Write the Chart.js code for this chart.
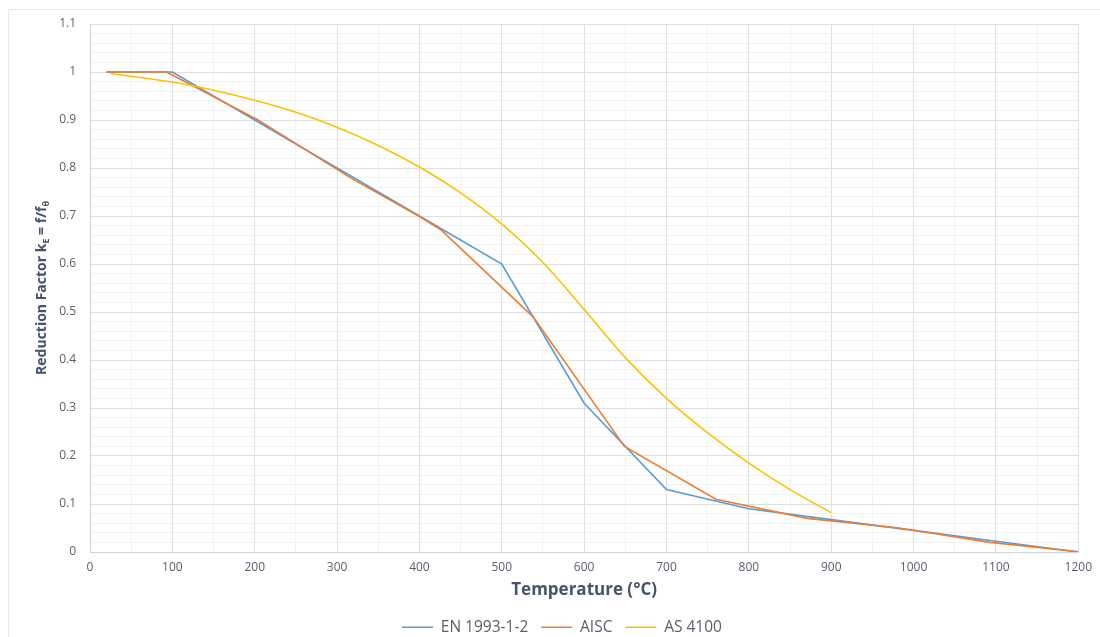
<!DOCTYPE html>
<html>
<head>
<meta charset="utf-8">
<script src="https://cdn.jsdelivr.net/npm/chart.js@4.4.1/dist/chart.umd.min.js"></script>
<style>
  html, body { margin: 0; padding: 0; background: #fff; overflow: hidden; }
  #frame {
    position: absolute; left: 8px; top: 9px; width: 1100px; height: 640px;
    border-top: 1px solid #e3e6ea; border-left: 1px solid #e3e6ea;
  }
  #wrap { position: absolute; left: 0; top: 0; width: 1100px; height: 645px; }
</style>
</head>
<body>
<div id="frame"></div>
<div id="wrap"><canvas id="chart"></canvas></div>
<script>
// ── Data ─────────────────────────────────────────────────────────────
const enTemps = [20, 100, 200, 300, 400, 500, 600, 700, 800, 900, 1000, 1100, 1200];
const enValues = [1, 1, 0.9, 0.8, 0.7, 0.6, 0.31, 0.13, 0.09, 0.0675, 0.045, 0.0225, 0];

const aiscTemps = [20, 93, 204, 316, 399, 427, 538, 649, 760, 871, 982, 1093, 1204];
const aiscValues = [1, 1, 0.9, 0.78, 0.7, 0.67, 0.49, 0.22, 0.11, 0.07, 0.05, 0.02, 0];

const asTemps = [25, 100, 150, 200, 250, 300, 350, 400, 450, 500, 550, 600, 650, 700, 750, 800, 850, 900];
const asValues = [0.997, 0.979, 0.962, 0.941, 0.916, 0.885, 0.847, 0.802, 0.748, 0.683, 0.603, 0.505, 0.405, 0.32, 0.248, 0.185, 0.13, 0.082];

const seriesNames = ["EN 1993-1-2", "AISC", "AS 4100"];
const seriesColors = ["#5B9BD5", "#ED7D31", "#FFC000"];

const TICK = "#595f6a";
const TITLE = "#44546A";
const MAJOR = "#dde1e6";
const MINOR = "#f1f2f4";

function pts(xs, ys) {
  return xs.map((x, i) => ({ x, y: ys[i] }));
}

// y-axis title has subscripts, so it is drawn by hand
const yTitle = {
  id: "yTitle",
  afterDraw(chart) {
    const { ctx, chartArea } = chart;
    const parts = [
      { t: "Reduction Factor k", s: 14, dy: 0 },
      { t: "E", s: 9, dy: 4 },
      { t: " = f/f", s: 14, dy: 0 },
      { t: "θ", s: 9, dy: 4 },
    ];
    ctx.save();
    let total = 0;
    parts.forEach((p) => {
      ctx.font = "bold " + p.s + "px 'Open Sans'";
      p.w = ctx.measureText(p.t).width;
      total += p.w;
    });
    ctx.translate(42, (chartArea.top + chartArea.bottom) / 2);
    ctx.rotate(-Math.PI / 2);
    ctx.fillStyle = TITLE;
    ctx.textBaseline = "middle";
    let x = -total / 2;
    parts.forEach((p) => {
      ctx.font = "bold " + p.s + "px 'Open Sans'";
      ctx.fillText(p.t, x, p.dy);
      x += p.w;
    });
    ctx.restore();
  },
};

const isMult = (v, step) => Math.abs(v / step - Math.round(v / step)) < 1e-6;

new Chart(document.getElementById("chart"), {
  type: "scatter",
  data: {
    datasets: [
      {
        label: seriesNames[0],
        data: pts(enTemps, enValues),
        borderColor: seriesColors[0],
        backgroundColor: seriesColors[0],
        order: 3,
      },
      {
        label: seriesNames[1],
        data: pts(aiscTemps, aiscValues),
        borderColor: seriesColors[1],
        backgroundColor: seriesColors[1],
        order: 2,
      },
      {
        label: seriesNames[2],
        data: pts(asTemps, asValues),
        borderColor: seriesColors[2],
        backgroundColor: seriesColors[2],
        cubicInterpolationMode: "monotone",
        order: 1,
      },
    ],
  },
  options: {
    responsive: true,
    maintainAspectRatio: false,
    animation: false,
    showLine: true,
    elements: {
      point: { radius: 0 },
      line: { borderWidth: 1.6, fill: false },
    },
    layout: { padding: { left: 45, right: 21, top: 24, bottom: 0 } },
    plugins: {
      tooltip: { enabled: false },
      legend: {
        position: "bottom",
        labels: {
          usePointStyle: true,
          pointStyle: "line",
          pointStyleWidth: 31,
          color: TICK,
          font: { family: "'Open Sans'", size: 15.5 },
          padding: 13,
          generateLabels: (chart) =>
            chart.data.datasets.map((ds, i) => ({
              text: ds.label,
              datasetIndex: i,
              strokeStyle: ds.borderColor,
              fillStyle: ds.borderColor,
              fontColor: TICK,
              lineWidth: 1.6,
              pointStyle: "line",
              hidden: !chart.isDatasetVisible(i),
            })),
        },
      },
    },
    scales: {
      x: {
        type: "linear",
        min: 0,
        max: 1200,
        afterFit: (s) => { s.height = 54.5; },
        ticks: {
          stepSize: 50,
          autoSkip: false,
          maxRotation: 0,
          padding: 8,
          color: TICK,
          font: { family: "'Open Sans'", size: 12 },
          callback: (v) => (isMult(v, 100) ? String(v) : ""),
        },
        grid: {
          drawTicks: false,
          color: (c) => (isMult(c.tick.value, 100) ? MAJOR : MINOR),
        },
        border: { color: "#cfd5dd" },
        title: {
          display: true,
          text: "Temperature (°C)",
          color: TITLE,
          font: { family: "'Open Sans'", size: 17, weight: "bold" },
          padding: { top: 0, bottom: 6 },
        },
      },
      y: {
        min: 0,
        max: 1.1,
        afterFit: (s) => { s.width = 45; },
        ticks: {
          stepSize: 0.02,
          autoSkip: false,
          padding: 14,
          color: TICK,
          font: { family: "'Open Sans'", size: 12 },
          callback: (v) => (isMult(v, 0.1) ? String(Math.round(v * 10) / 10) : ""),
        },
        grid: {
          drawTicks: false,
          color: (c) => (isMult(c.tick.value, 0.1) ? MAJOR : MINOR),
        },
        border: { color: "#cfd5dd" },
      },
    },
  },
  plugins: [yTitle],
});
</script>
</body>
</html>
